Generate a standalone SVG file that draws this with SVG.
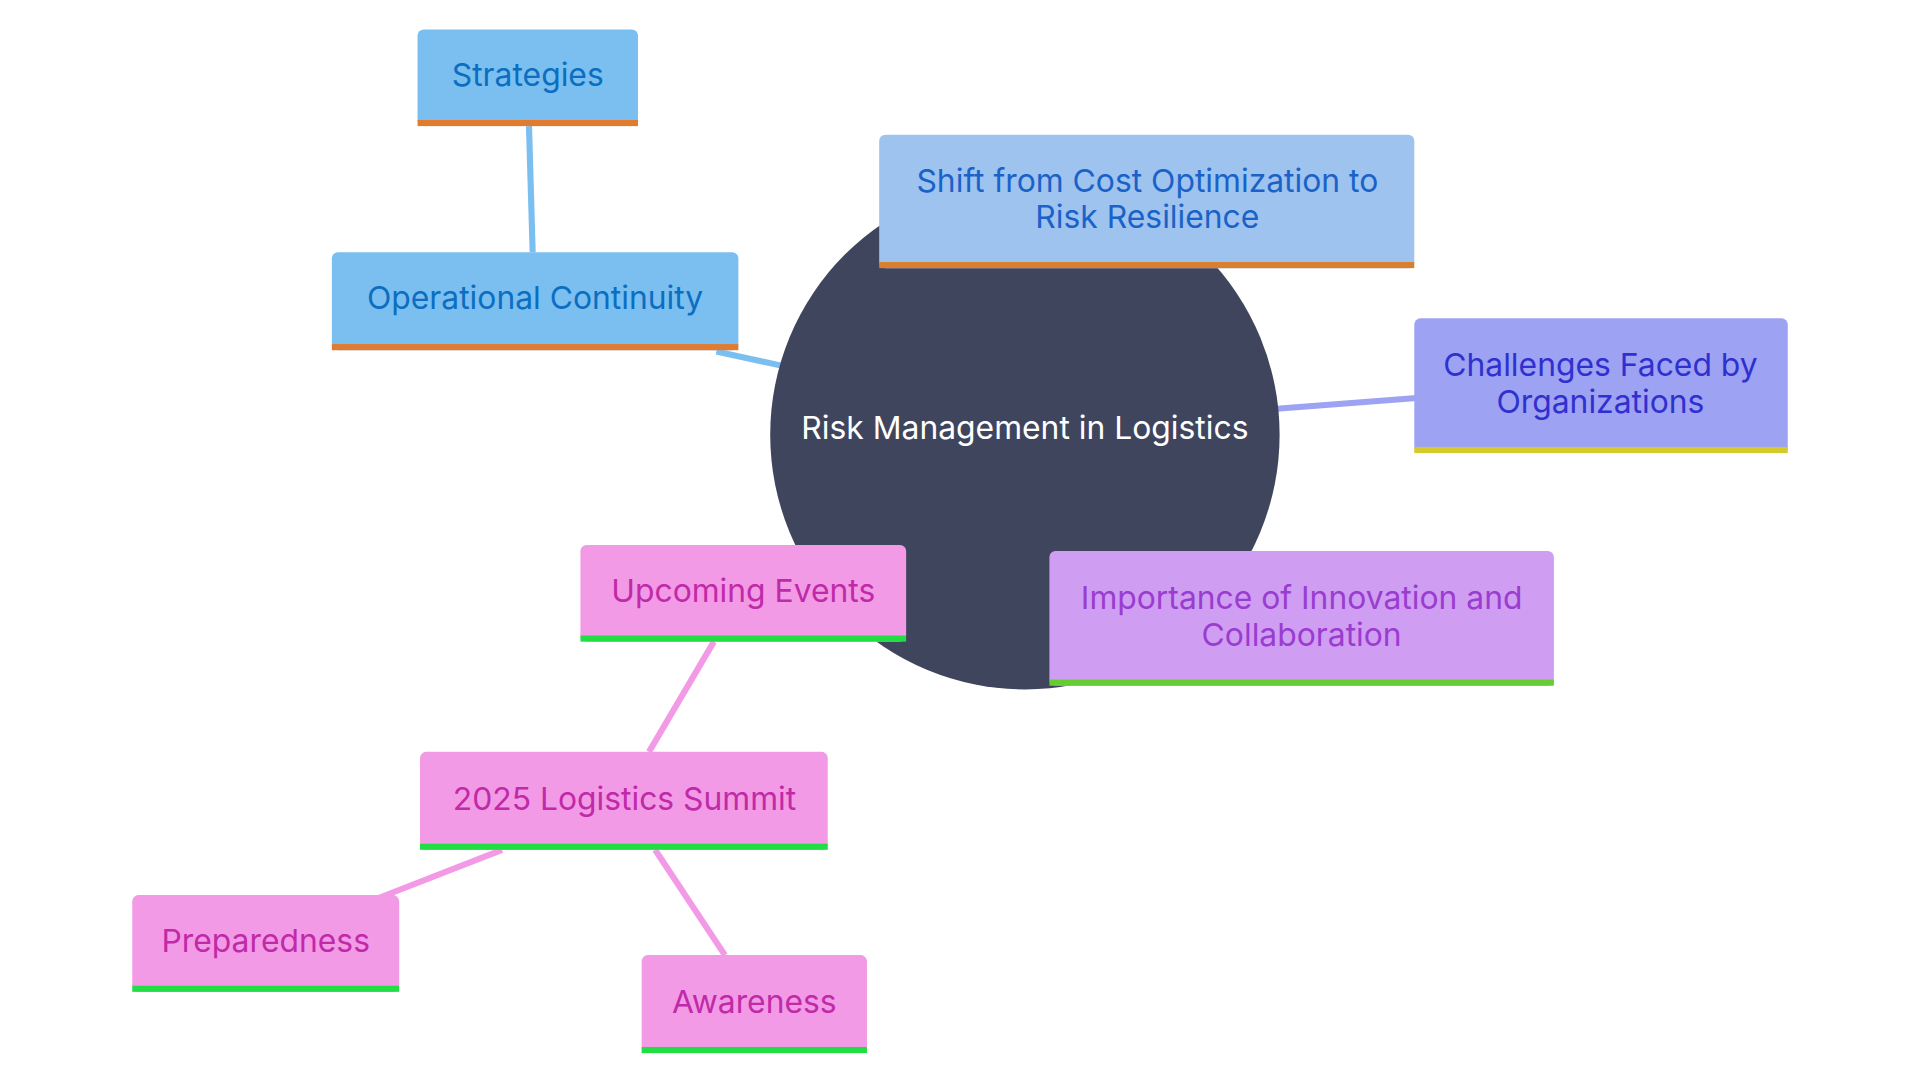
<svg xmlns="http://www.w3.org/2000/svg" width="1920" height="1080" viewBox="0 0 1920 1080">
<style>
text{font-family:Inter,"Noto Sans",sans-serif;font-size:26px;text-anchor:middle;dominant-baseline:central}
.c{fill:none;stroke-width:5}
</style>
<rect width="1920" height="1080" fill="#fff"/>
<g transform="scale(1.2245)">
<g id="connectors">
<line class="c" stroke="#7bbff0" x1="585" y1="287" x2="640" y2="299"/>
<line class="c" stroke="#7bbff0" x1="432" y1="103" x2="435" y2="206"/>
<line class="c" stroke="#9da2f2" x1="1040" y1="334" x2="1157" y2="325"/>
<line class="c" stroke="#f39ae6" x1="583" y1="524" x2="530" y2="614"/>
<line class="c" stroke="#f39ae6" x1="410" y1="694" x2="305" y2="735"/>
<line class="c" stroke="#f39ae6" x1="535" y1="694" x2="592" y2="780"/>
</g>
<g id="root"><circle cx="837" cy="355" r="208" fill="#40455e"/><text x="837" y="349" fill="#fff">Risk Management in Logistics</text></g>
<g id="strategies"><rect x="341" y="24" width="180" height="79" rx="5" fill="#7bbff0"/><rect x="341" y="98" width="180" height="5" fill="#e07b30"/><text x="431" y="61" fill="#0b6ec0">Strategies</text></g>
<g id="ops"><rect x="271" y="206" width="332" height="80" rx="5" fill="#7bbff0"/><rect x="271" y="281" width="332" height="5" fill="#e07b30"/><text x="437" y="243" fill="#0b6ec0">Operational Continuity</text></g>
<g id="shift"><rect x="718" y="110" width="437" height="109" rx="5" fill="#9ec3ef"/><rect x="718" y="214" width="437" height="5" fill="#d98030"/><text x="937" y="147" fill="#1a62c8">Shift from Cost Optimization to</text><text x="937" y="177" fill="#1a62c8">Risk Resilience</text></g>
<g id="challenges"><rect x="1155" y="260" width="305" height="110" rx="5" fill="#9da2f2"/><rect x="1155" y="365" width="305" height="5" fill="#d6c92a"/><text x="1307" y="298" fill="#3030d0">Challenges Faced by</text><text x="1307" y="328" fill="#3030d0">Organizations</text></g>
<g id="innovation"><rect x="857" y="450" width="412" height="110" rx="5" fill="#cf9ef2"/><rect x="857" y="555" width="412" height="5" fill="#66cc33"/><text x="1063" y="488" fill="#9a3cd0">Importance of Innovation and</text><text x="1063" y="518" fill="#9a3cd0">Collaboration</text></g>
<g id="events"><rect x="474" y="445" width="266" height="79" rx="5" fill="#f39ae6"/><rect x="474" y="519" width="266" height="5" fill="#22dd44"/><text x="607" y="482" fill="#c02aa8">Upcoming Events</text></g>
<g id="summit"><rect x="343" y="614" width="333" height="80" rx="5" fill="#f39ae6"/><rect x="343" y="689" width="333" height="5" fill="#22dd44"/><text x="510" y="652" fill="#c02aa8">2025 Logistics Summit</text></g>
<g id="prep"><rect x="108" y="731" width="218" height="79" rx="5" fill="#f39ae6"/><rect x="108" y="805" width="218" height="5" fill="#22dd44"/><text x="217" y="768" fill="#c02aa8">Preparedness</text></g>
<g id="aware"><rect x="524" y="780" width="184" height="80" rx="5" fill="#f39ae6"/><rect x="524" y="855" width="184" height="5" fill="#22dd44"/><text x="616" y="818" fill="#c02aa8">Awareness</text></g>
</g>
</svg>
